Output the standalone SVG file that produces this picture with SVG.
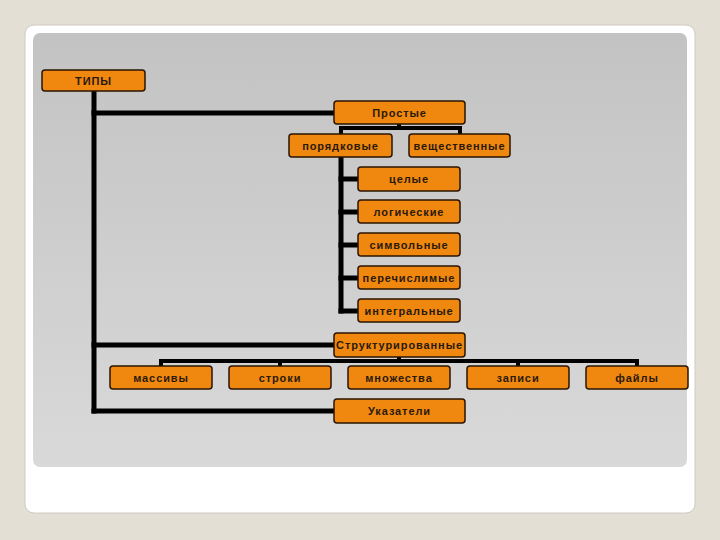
<svg xmlns="http://www.w3.org/2000/svg" width="720" height="540" viewBox="0 0 720 540">
<defs>
<linearGradient id="panel" x1="0" y1="0" x2="0" y2="1">
<stop offset="0" stop-color="#c3c3c3"/>
<stop offset="1" stop-color="#d9d9d9"/>
</linearGradient>
<style>
.n rect{fill:#f0870f;stroke:#2a1500;stroke-width:1.5}
.n text{font-family:"Liberation Sans",Arial,sans-serif;font-size:11px;letter-spacing:0.9px;font-weight:bold;fill:#2a1a0a;text-anchor:middle;dominant-baseline:central}
.c line{stroke:#000;stroke-width:5;stroke-linecap:square}
.c .t{stroke-width:4}
</style>
</defs>
<rect x="0" y="0" width="720" height="540" fill="#e4dfd5"/>
<rect x="25" y="25" width="670" height="488" rx="9" fill="#fff" stroke="#cfcac0" stroke-width="1"/>
<rect x="33" y="33" width="654" height="434" rx="7" fill="url(#panel)"/>
<g class="c" id="connectors">
<line x1="94" y1="92" x2="94" y2="411"/>
<line x1="94" y1="113" x2="334" y2="113"/>
<line x1="94" y1="345" x2="334" y2="345"/>
<line x1="94" y1="411" x2="334" y2="411"/>
<line class="t" x1="341" y1="128" x2="460" y2="128"/>
<line class="t" x1="399" y1="124" x2="399" y2="128"/>
<line class="t" x1="341" y1="128" x2="341" y2="134"/>
<line class="t" x1="460" y1="128" x2="460" y2="134"/>
<line x1="341" y1="157" x2="341" y2="311"/>
<line x1="341" y1="179" x2="358" y2="179"/>
<line x1="341" y1="212" x2="358" y2="212"/>
<line x1="341" y1="245" x2="358" y2="245"/>
<line x1="341" y1="278" x2="358" y2="278"/>
<line x1="341" y1="311" x2="358" y2="311"/>
<line class="t" x1="161" y1="361" x2="637" y2="361"/>
<line class="t" x1="399" y1="357" x2="399" y2="361"/>
<line class="t" x1="161" y1="361" x2="161" y2="366"/>
<line class="t" x1="280" y1="361" x2="280" y2="366"/>
<line class="t" x1="518" y1="361" x2="518" y2="366"/>
<line class="t" x1="637" y1="361" x2="637" y2="366"/>
</g>
<g class="n" id="n-tipy"><rect x="42" y="70" width="103" height="21" rx="3"/><text x="93.5" y="80.5">ТИПЫ</text></g>
<g class="n" id="n-prostye"><rect x="334" y="101" width="131" height="23" rx="3"/><text x="399.5" y="112.5">Простые</text></g>
<g class="n" id="n-poryadkovye"><rect x="289" y="134" width="103" height="23" rx="3"/><text x="340.5" y="145.5">порядковые</text></g>
<g class="n" id="n-veshchestvennye"><rect x="409" y="134" width="101" height="23" rx="3"/><text x="459.5" y="145.5">вещественные</text></g>
<g class="n" id="n-tselye"><rect x="358" y="167" width="102" height="24" rx="3"/><text x="409" y="179">целые</text></g>
<g class="n" id="n-logicheskie"><rect x="358" y="200" width="102" height="23" rx="3"/><text x="409" y="211.5">логические</text></g>
<g class="n" id="n-simvolnye"><rect x="358" y="233" width="102" height="23" rx="3"/><text x="409" y="244.5">символьные</text></g>
<g class="n" id="n-perechislimye"><rect x="358" y="266" width="102" height="23" rx="3"/><text x="409" y="277.5">перечислимые</text></g>
<g class="n" id="n-integralnye"><rect x="358" y="299" width="102" height="23" rx="3"/><text x="409" y="310.5">интегральные</text></g>
<g class="n" id="n-strukturirovannye"><rect x="334" y="333" width="131" height="24" rx="3"/><text x="399.5" y="345">Структурированные</text></g>
<g class="n" id="n-massivy"><rect x="110" y="366" width="102" height="23" rx="3"/><text x="161" y="377.5">массивы</text></g>
<g class="n" id="n-stroki"><rect x="229" y="366" width="102" height="23" rx="3"/><text x="280" y="377.5">строки</text></g>
<g class="n" id="n-mnozhestva"><rect x="348" y="366" width="102" height="23" rx="3"/><text x="399" y="377.5">множества</text></g>
<g class="n" id="n-zapisi"><rect x="467" y="366" width="102" height="23" rx="3"/><text x="518" y="377.5">записи</text></g>
<g class="n" id="n-fayly"><rect x="586" y="366" width="102" height="23" rx="3"/><text x="637" y="377.5">файлы</text></g>
<g class="n" id="n-ukazateli"><rect x="334" y="399" width="131" height="24" rx="3"/><text x="399.5" y="411">Указатели</text></g>
</svg>
